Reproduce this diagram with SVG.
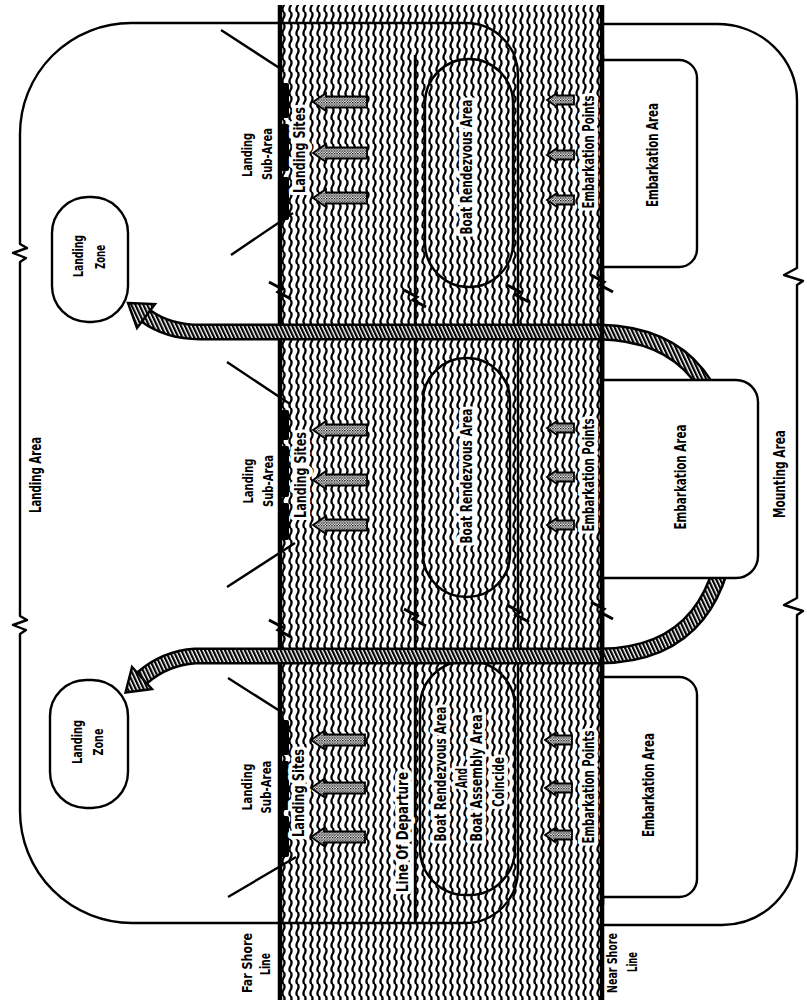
<svg xmlns="http://www.w3.org/2000/svg" xmlns:xlink="http://www.w3.org/1999/xlink" width="807" height="1003" viewBox="0 0 807 1003">
<style>
.ln{fill:none;stroke:#000;stroke-width:2.4;stroke-linejoin:round}
.shore{stroke:#000;stroke-width:4.5;fill:none}
.t{font-family:"Liberation Sans Narrow","DejaVu Sans Condensed","Roboto Condensed","Liberation Sans",sans-serif;font-weight:bold;font-size:16px;fill:#000;text-anchor:middle}
.s{font-size:14px}
.halo{stroke:#fff;stroke-width:8;paint-order:stroke;stroke-linejoin:round}
.box{fill:#fff;stroke:#000;stroke-width:2.4}
.arr{fill:url(#stip);stroke:#000;stroke-width:1.8}
.blk{fill:#000}
.bandO{fill:none;stroke:#000;stroke-width:17}
.bandI{fill:none;stroke:url(#hatch);stroke-width:12}
.head{fill:url(#hatch);stroke:#000;stroke-width:2.4;stroke-linejoin:miter}
.brk{fill:none;stroke:#000;stroke-width:3}
</style>
<defs>
<pattern id="water" x="280" y="0" width="7" height="12" patternUnits="userSpaceOnUse">
<path d="M3.5,-0.5 C5.1,2 5.1,3.5 3.5,6 C1.9,8.5 1.9,10 3.5,12.5" fill="none" stroke="#000" stroke-width="2.3"/>
</pattern>
<pattern id="stip" width="2.6" height="2.6" patternUnits="userSpaceOnUse">
<rect width="2.6" height="2.6" fill="#fff"/>
<circle cx="0.7" cy="0.7" r="0.8" fill="#000"/>
<circle cx="2" cy="2" r="0.6" fill="#000"/>
</pattern>
<pattern id="hatch" width="3.6" height="4" patternUnits="userSpaceOnUse" patternTransform="rotate(-25)">
<rect width="3.6" height="4" fill="#fff"/>
<rect width="2.2" height="4" fill="#000"/>
</pattern>
<polygon id="arrL" points="0,0 13,-9 13,-5.5 54,-5.5 54,5.5 13,5.5 13,9"/>
<polygon id="arrS" points="0,0 10,-7 10,-4.5 27,-4.5 27,4.5 10,4.5 10,7"/>
<path id="brkp" d="M-11,-8 L2,-1 L-2,2 L11,9"/>
</defs>
<rect width="807" height="1003" fill="#fff"/>

<g id="water-band">
<rect x="280" y="5" width="322" height="995" fill="url(#water)"/>
<line class="shore" x1="280" y1="5" x2="280" y2="1000"/>
<line class="shore" x1="602" y1="5" x2="602" y2="1000"/>
</g>

<g id="landing-area">
<path class="ln" d="M131,23 H466 A52,52 0 0 1 518,75 V870 A53,53 0 0 1 465,923 H132 A112,112 0 0 1 20,811 V634 L26,630 L13,625 L27,620 L20,616 V262 L26,258 L13,253 L27,248 L20,244 V134 A111,111 0 0 1 131,23 Z"/>
<text class="t" transform="translate(41,475) rotate(-90)" textLength="76" lengthAdjust="spacingAndGlyphs">Landing Area</text>
</g>

<g id="mounting-area">
<path class="ln" d="M603,24 H717 A80,76 0 0 1 797,100 V268 L784,275 L803,281 L797,285 V598 L784,605 L803,611 L797,615 V850 A75,75 0 0 1 722,925 H603"/>
<text class="t" transform="translate(785,474) rotate(-90)" textLength="88" lengthAdjust="spacingAndGlyphs">Mounting Area</text>
</g>

<g id="line-of-departure">
<line class="ln" x1="415" y1="55" x2="415" y2="923"/>
<text class="t halo" transform="translate(408,832) rotate(-90)" textLength="120" lengthAdjust="spacingAndGlyphs">Line Of Departure</text>
</g>

<g id="breaks">
<use href="#brkp" class="brk" x="280" y="290"/>
<use href="#brkp" class="brk" x="280" y="628"/>
<use href="#brkp" class="brk" x="415" y="298"/>
<use href="#brkp" class="brk" x="415" y="617"/>
<use href="#brkp" class="brk" x="518" y="293"/>
<use href="#brkp" class="brk" x="518" y="613"/>
<use href="#brkp" class="brk" x="602" y="283"/>
<use href="#brkp" class="brk" x="602" y="610"/>
</g>

<g id="shore-labels">
<text class="t s" transform="translate(252,963) rotate(-90)" textLength="60" lengthAdjust="spacingAndGlyphs">Far Shore</text>
<text class="t s" transform="translate(270,964) rotate(-90)" textLength="22" lengthAdjust="spacingAndGlyphs">Line</text>
<text class="t s" transform="translate(617,963) rotate(-90)" textLength="60" lengthAdjust="spacingAndGlyphs">Near Shore</text>
<text class="t s" transform="translate(637,962) rotate(-90)" textLength="20" lengthAdjust="spacingAndGlyphs">Line</text>
</g>

<g id="boat-rendezvous-1">
<rect class="ln" x="425" y="59" width="88" height="228" rx="44"/>
<text class="t halo" transform="translate(472,167) rotate(-90)" textLength="135" lengthAdjust="spacingAndGlyphs">Boat Rendezvous Area</text>
</g>
<g id="boat-rendezvous-2">
<rect class="ln" x="423" y="358" width="87" height="239" rx="43"/>
<text class="t halo" transform="translate(472,476) rotate(-90)" textLength="135" lengthAdjust="spacingAndGlyphs">Boat Rendezvous Area</text>
</g>
<g id="boat-rendezvous-3">
<rect class="ln" x="420" y="661" width="95" height="234" rx="46"/>
<text class="t halo" transform="translate(446,774) rotate(-90)" textLength="135" lengthAdjust="spacingAndGlyphs">Boat Rendezvous Area</text>
<text class="t halo" transform="translate(467,778) rotate(-90)" textLength="20" lengthAdjust="spacingAndGlyphs">And</text>
<text class="t halo" transform="translate(482,778) rotate(-90)" textLength="127" lengthAdjust="spacingAndGlyphs">Boat Assembly Area</text>
<text class="t halo" transform="translate(504,782) rotate(-90)" textLength="50" lengthAdjust="spacingAndGlyphs">Coincide</text>
</g>

<g id="landing-subarea-1">
<line class="ln" x1="221" y1="30" x2="284" y2="71"/>
<line class="ln" x1="231" y1="255" x2="293" y2="213"/>
<rect class="blk" x="279" y="83" width="10" height="35" rx="2"/>
<rect class="blk" x="279" y="124" width="10" height="47" rx="2"/>
<rect class="blk" x="279" y="177" width="10" height="43" rx="2"/>
<text class="t s" transform="translate(252,155) rotate(-90)" textLength="44" lengthAdjust="spacingAndGlyphs">Landing</text>
<text class="t s" transform="translate(272,154) rotate(-90)" textLength="52" lengthAdjust="spacingAndGlyphs">Sub-Area</text>
<text class="t halo" transform="translate(305,150) rotate(-90)" textLength="86" lengthAdjust="spacingAndGlyphs">Landing Sites</text>
<use href="#arrL" class="arr" x="313" y="102"/>
<use href="#arrL" class="arr" x="313" y="153"/>
<use href="#arrL" class="arr" x="313" y="198"/>
</g>
<g id="landing-subarea-2">
<line class="ln" x1="227" y1="362" x2="290" y2="404"/>
<line class="ln" x1="227" y1="587" x2="295" y2="543"/>
<rect class="blk" x="279" y="410" width="10" height="30" rx="2"/>
<rect class="blk" x="279" y="446" width="10" height="51" rx="2"/>
<rect class="blk" x="279" y="503" width="10" height="37" rx="2"/>
<text class="t s" transform="translate(253,481) rotate(-90)" textLength="45" lengthAdjust="spacingAndGlyphs">Landing</text>
<text class="t s" transform="translate(273,481) rotate(-90)" textLength="52" lengthAdjust="spacingAndGlyphs">Sub-Area</text>
<text class="t halo" transform="translate(306,475) rotate(-90)" textLength="86" lengthAdjust="spacingAndGlyphs">Landing Sites</text>
<use href="#arrL" class="arr" x="313" y="430"/>
<use href="#arrL" class="arr" x="313" y="480"/>
<use href="#arrL" class="arr" x="313" y="525"/>
</g>
<g id="landing-subarea-3">
<line class="ln" x1="228" y1="678" x2="283" y2="713"/>
<line class="ln" x1="228" y1="897" x2="296" y2="857"/>
<rect class="blk" x="279" y="720" width="10" height="35" rx="2"/>
<rect class="blk" x="279" y="761" width="10" height="49" rx="2"/>
<rect class="blk" x="279" y="816" width="10" height="41" rx="2"/>
<text class="t s" transform="translate(252,787) rotate(-90)" textLength="47" lengthAdjust="spacingAndGlyphs">Landing</text>
<text class="t s" transform="translate(271,787) rotate(-90)" textLength="53" lengthAdjust="spacingAndGlyphs">Sub-Area</text>
<text class="t halo" transform="translate(304,793) rotate(-90)" textLength="88" lengthAdjust="spacingAndGlyphs">Landing Sites</text>
<use href="#arrL" class="arr" x="311" y="740"/>
<use href="#arrL" class="arr" x="311" y="788"/>
<use href="#arrL" class="arr" x="311" y="837"/>
</g>

<g id="embarkation-points-1">
<rect class="blk" x="600" y="83" width="10" height="34" rx="2"/>
<rect class="blk" x="600" y="137" width="10" height="31" rx="2"/>
<rect class="blk" x="600" y="183" width="10" height="34" rx="2"/>
<text class="t halo" transform="translate(594,152) rotate(-90)" textLength="113" lengthAdjust="spacingAndGlyphs">Embarkation Points</text>
<use href="#arrS" class="arr" x="547" y="100"/>
<use href="#arrS" class="arr" x="547" y="155"/>
<use href="#arrS" class="arr" x="547" y="200"/>
</g>
<g id="embarkation-points-2">
<rect class="blk" x="600" y="410" width="10" height="37" rx="2"/>
<rect class="blk" x="600" y="462" width="10" height="31" rx="2"/>
<rect class="blk" x="600" y="510" width="10" height="32" rx="2"/>
<text class="t halo" transform="translate(594,475) rotate(-90)" textLength="113" lengthAdjust="spacingAndGlyphs">Embarkation Points</text>
<use href="#arrS" class="arr" x="547" y="428"/>
<use href="#arrS" class="arr" x="547" y="477"/>
<use href="#arrS" class="arr" x="547" y="525"/>
</g>
<g id="embarkation-points-3">
<rect class="blk" x="600" y="720" width="10" height="37" rx="2"/>
<rect class="blk" x="600" y="772" width="10" height="35" rx="2"/>
<rect class="blk" x="600" y="820" width="10" height="33" rx="2"/>
<text class="t halo" transform="translate(594,787) rotate(-90)" textLength="113" lengthAdjust="spacingAndGlyphs">Embarkation Points</text>
<use href="#arrS" class="arr" x="545" y="740"/>
<use href="#arrS" class="arr" x="545" y="788"/>
<use href="#arrS" class="arr" x="545" y="835"/>
</g>

<g id="connectors">
<path class="bandO" d="M730,494 Q730,335 600,332 L200,332 Q168,332 146,316"/>
<path class="bandI" d="M730,494 Q730,335 600,332 L200,332 Q168,332 146,316"/>
<polygon class="head" points="128,303 155,304 137,328"/>
<path class="bandO" d="M730,494 Q730,655 600,656 L195,656 Q165,658 142,678"/>
<path class="bandI" d="M730,494 Q730,655 600,656 L195,656 Q165,658 142,678"/>
<polygon class="head" points="125.5,692.5 152,689 132,667"/>
</g>

<g id="landing-zone-1">
<rect class="box" x="52" y="197" width="76" height="125" rx="36"/>
<text class="t s" transform="translate(83,256) rotate(-90)" textLength="42" lengthAdjust="spacingAndGlyphs">Landing</text>
<text class="t s" transform="translate(105,257) rotate(-90)" textLength="24" lengthAdjust="spacingAndGlyphs">Zone</text>
</g>
<g id="landing-zone-2">
<rect class="box" x="50" y="680" width="78" height="128" rx="36"/>
<text class="t s" transform="translate(82,742) rotate(-90)" textLength="44" lengthAdjust="spacingAndGlyphs">Landing</text>
<text class="t s" transform="translate(103,742) rotate(-90)" textLength="27" lengthAdjust="spacingAndGlyphs">Zone</text>
</g>

<g id="embarkation-area-1">
<path class="box" d="M603,60 H679 A18,18 0 0 1 697,78 V249 A18,18 0 0 1 679,267 H603"/>
<text class="t" transform="translate(658,155) rotate(-90)" textLength="104" lengthAdjust="spacingAndGlyphs">Embarkation Area</text>
</g>
<g id="embarkation-area-2">
<path class="box" d="M603,380 H736 A22,22 0 0 1 758,402 V556 A22,22 0 0 1 736,578 H603"/>
<text class="t" transform="translate(686,477) rotate(-90)" textLength="105" lengthAdjust="spacingAndGlyphs">Embarkation Area</text>
</g>
<g id="embarkation-area-3">
<path class="box" d="M603,677 H679 A18,18 0 0 1 697,695 V879 A18,18 0 0 1 679,897 H603"/>
<text class="t" transform="translate(654,785) rotate(-90)" textLength="104" lengthAdjust="spacingAndGlyphs">Embarkation Area</text>
</g>
<line class="shore" x1="602" y1="55" x2="602" y2="905"/>
</svg>
